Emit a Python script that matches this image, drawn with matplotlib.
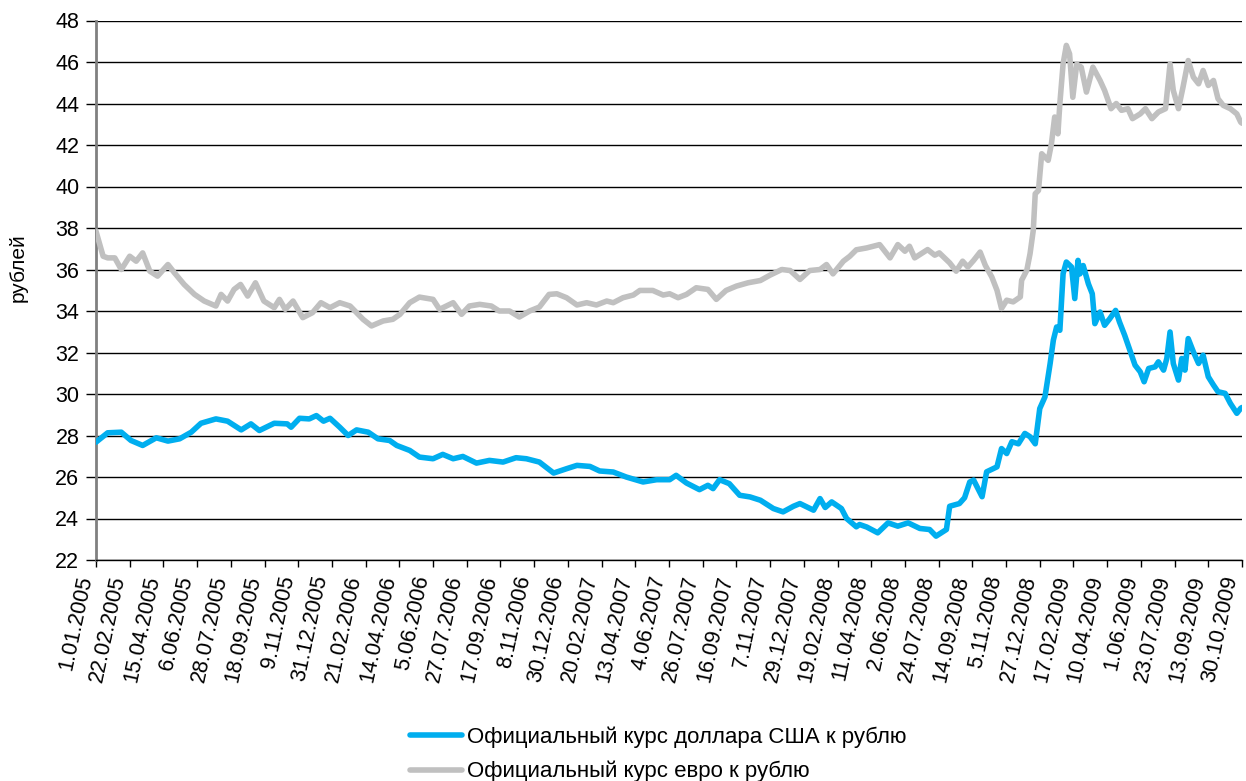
import pandas as pd
import matplotlib
matplotlib.use("Agg")
import matplotlib.pyplot as plt

# tick labels as printed under the x axis (one every 52 days)
tick_labels = ["1.01.2005", "22.02.2005", "15.04.2005", "6.06.2005", "28.07.2005",
               "18.09.2005", "9.11.2005", "31.12.2005", "21.02.2006", "14.04.2006",
               "5.06.2006", "27.07.2006", "17.09.2006", "8.11.2006", "30.12.2006",
               "20.02.2007", "13.04.2007", "4.06.2007", "26.07.2007", "16.09.2007",
               "7.11.2007", "29.12.2007", "19.02.2008", "11.04.2008", "2.06.2008",
               "24.07.2008", "14.09.2008", "5.11.2008", "27.12.2008", "17.02.2009",
               "10.04.2009", "1.06.2009", "23.07.2009", "13.09.2009", "30.10.2009"]

# euro rate, days counted from 1.01.2005
eur_days = [0, 11, 18, 29, 39, 52, 62, 72, 83, 95, 111, 121, 136, 152, 167,
            185, 193, 203, 213, 223, 234, 246, 259, 275, 283, 292, 304, 319, 334, 347,
            361, 376, 392, 412, 425, 443, 458, 469, 484, 499, 520, 530, 551, 564, 576,
            592, 610, 622, 638, 653, 669, 684, 699,
            711, 726, 742, 757, 772, 788, 798, 813, 829, 839, 859, 875, 885, 898, 911,
            926, 944, 957, 972, 988,
            1006, 1025, 1040, 1058, 1071, 1086, 1101, 1117, 1127, 1137, 1153, 1163, 1173,
            1189, 1209, 1225, 1237, 1248, 1255, 1263, 1271, 1283, 1294, 1301, 1317, 1327,
            1337, 1345,
            1354, 1364, 1372, 1382, 1390, 1397, 1405, 1415, 1426, 1428, 1436, 1441, 1446,
            1449, 1454, 1459, 1469, 1474, 1479, 1484, 1487, 1492, 1497, 1502, 1507, 1513,
            1520, 1528, 1538, 1549, 1556, 1566, 1574, 1582, 1592, 1599,
            1611, 1619, 1629, 1639, 1650, 1657, 1662, 1670, 1677, 1685, 1693, 1701, 1708,
            1716, 1724, 1731, 1739, 1750, 1760, 1766, 1768]
eur_rate = [37.84, 36.64, 36.56, 36.56, 36.0, 36.64, 36.4, 36.8, 35.92, 35.68, 36.24, 35.84, 35.28, 34.8, 34.48,
            34.24, 34.8, 34.48, 35.04, 35.28, 34.72, 35.36, 34.48, 34.16, 34.56, 34.08, 34.48, 33.68, 33.92, 34.4,
            34.16, 34.4, 34.24, 33.6, 33.28, 33.52, 33.6, 33.84, 34.4, 34.67, 34.56, 34.08, 34.4, 33.84, 34.24,
            34.32, 34.24, 34.0, 34.0, 33.71, 34.0, 34.19, 34.8,
            34.83, 34.64, 34.29, 34.4, 34.29, 34.48, 34.4, 34.64, 34.77, 34.99, 34.99, 34.77, 34.83, 34.64, 34.8,
            35.12, 35.04, 34.56, 34.99, 35.2,
            35.36, 35.47, 35.73, 36.0, 35.95, 35.52, 35.95, 36.0, 36.24, 35.79, 36.4, 36.64, 36.95,
            37.04, 37.2, 36.56, 37.2, 36.88, 37.12, 36.56, 36.72, 36.96, 36.69, 36.8, 36.32, 35.92,
            36.4, 36.12,
            36.44, 36.84, 36.2, 35.64, 35.0, 34.12, 34.52, 34.44, 34.68, 35.48, 35.96, 36.76, 37.89,
            39.65, 39.81, 41.58, 41.26, 42.06, 43.35, 42.54, 44.0, 45.91, 46.8, 46.39, 44.3, 45.9,
            45.75, 44.55, 45.75, 45.11, 44.63, 43.75, 44.0, 43.67, 43.75, 43.27,
            43.5, 43.75, 43.27, 43.59, 43.75, 45.91, 44.63, 43.75, 44.79, 46.07, 45.27, 44.95, 45.59,
            44.87, 45.11, 44.23, 43.91, 43.75, 43.5, 43.1, 43.05]

# dollar rate, days counted from 1.01.2005
usd_days = [0, 18, 39, 54, 72, 93, 111, 129, 147, 162, 185, 203, 224, 239, 252,
            275, 295, 301, 314, 329, 340, 351, 361, 376, 389, 402, 420, 435, 453, 464,
            484, 499, 520, 535, 551, 566, 587, 607, 628, 648, 664, 684,
            706, 726, 742, 762, 777, 798, 818, 844, 865, 885, 895, 911, 931, 944, 952,
            962, 977, 993,
            1009, 1025, 1045, 1060, 1076, 1086, 1107, 1117, 1125, 1135, 1150, 1158, 1173,
            1178, 1189, 1206, 1222, 1237, 1253, 1271, 1286, 1296, 1312, 1317, 1332, 1340, 1348,
            1354, 1367, 1374, 1390, 1397, 1405, 1413, 1423, 1433, 1441, 1449, 1456, 1464,
            1472, 1477, 1482, 1487, 1492, 1497, 1505, 1510, 1515, 1518, 1523, 1531, 1537,
            1541, 1549, 1556, 1564, 1573, 1579, 1587, 1595,
            1603, 1611, 1617, 1624, 1634, 1639, 1647, 1652, 1657, 1662, 1670, 1675, 1680,
            1685, 1693, 1701, 1708, 1716, 1724, 1731, 1742, 1750, 1760, 1766, 1768]
usd_rate = [27.68, 28.13, 28.16, 27.76, 27.52, 27.89, 27.73, 27.84, 28.16, 28.59, 28.8, 28.69, 28.27, 28.56, 28.24,
            28.59, 28.56, 28.4, 28.83, 28.8, 28.96, 28.69, 28.83, 28.4, 28.0, 28.27, 28.16, 27.84, 27.76, 27.52,
            27.28, 26.96, 26.88, 27.09, 26.88, 26.99, 26.67, 26.8, 26.72, 26.93, 26.88, 26.72,
            26.19, 26.4, 26.56, 26.51, 26.29, 26.24, 26.0, 25.76, 25.87, 25.87, 26.08, 25.71, 25.39, 25.6, 25.44,
            25.87, 25.68, 25.12,
            25.04, 24.88, 24.48, 24.32, 24.59, 24.72, 24.4, 24.96, 24.53, 24.8, 24.48, 24.0, 23.6,
            23.71, 23.59, 23.31, 23.79, 23.63, 23.79, 23.52, 23.47, 23.15, 23.47, 24.59, 24.72, 25.0, 25.76,
            25.85, 25.05, 26.25, 26.49, 27.37, 27.13, 27.7, 27.6, 28.1, 27.94, 27.6, 29.3, 29.86,
            31.47, 32.6, 33.23, 33.07, 35.8, 36.36, 36.12, 34.6, 36.44, 35.79, 36.19, 35.31, 34.83,
            33.39, 33.95, 33.31, 33.63, 34.03, 33.47, 32.83, 32.11,
            31.39, 31.07, 30.59, 31.23, 31.31, 31.55, 31.15, 31.71, 32.99, 31.47, 30.67, 31.71, 31.15,
            32.67, 32.03, 31.47, 31.87, 30.83, 30.43, 30.11, 30.03, 29.55, 29.07, 29.31, 29.35]

usd_label = "Официальный курс доллара США к рублю"
eur_label = "Официальный курс евро к рублю"

plt.rcParams["font.family"] = ["Liberation Sans", "DejaVu Sans"]

start = pd.Timestamp("2005-01-01")
eur_dates = start + pd.to_timedelta(eur_days, unit="D")
usd_dates = start + pd.to_timedelta(usd_days, unit="D")
tick_dates = pd.date_range(start, periods=len(tick_labels), freq="52D")

W, H = 1246, 781
fig = plt.figure(figsize=(W / 100, H / 100), dpi=100)
ax = fig.add_axes([96 / W, 1 - 560 / H, (1242 - 96) / W, (560 - 20.5) / H])

# lines
ax.plot(usd_dates, usd_rate, color="#00AEEF", lw=4, solid_joinstyle="round",
        solid_capstyle="round", label=usd_label, zorder=3)
ax.plot(eur_dates, eur_rate, color="#C0C0C0", lw=4, solid_joinstyle="round",
        solid_capstyle="round", label=eur_label, zorder=3)

# axes
ax.set_ylim(22, 48)
ax.set_yticks(range(22, 49, 2))
ax.set_xlim(tick_dates[0], tick_dates[-1])
ax.set_xticks(tick_dates)
ax.set_xticklabels(tick_labels, rotation=78, ha="right", va="bottom", rotation_mode="anchor")
ax.grid(axis="y", color="black", lw=1)
ax.grid(axis="x", visible=False)
ax.set_axisbelow(True)
for s in ["top", "right"]:
    ax.spines[s].set_visible(False)
ax.spines["left"].set_color("#808080")
ax.spines["left"].set_linewidth(2)
ax.spines["bottom"].set_color("black")
ax.spines["bottom"].set_linewidth(1)
ax.tick_params(axis="y", length=7, width=1, color="black", labelsize=15.5, pad=5)
ax.tick_params(axis="x", length=5, width=1, color="black", labelsize=15.5, pad=8)

fig.text(18 / W, 1 - 268 / H, "рублей", rotation=90, ha="center", va="center", fontsize=15)

fig.legend(loc="upper left", bbox_to_anchor=(410 / W, 1 - 726 / H), frameon=False,
           fontsize=16, handlelength=2.35, handletextpad=0.2, labelspacing=0.6,
           borderpad=0, borderaxespad=0)

plt.savefig("out.png", dpi=100)
